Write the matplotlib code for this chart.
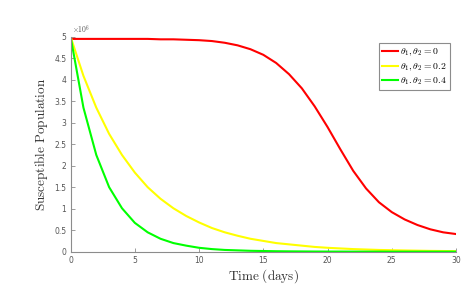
import numpy as np
import matplotlib.pyplot as plt
from matplotlib.ticker import FuncFormatter

plt.rcParams['mathtext.fontset'] = 'cm'

days = list(range(31))
s_red = [4.95, 4.95, 4.95, 4.95, 4.95, 4.95, 4.95, 4.94, 4.94, 4.93, 4.92,
         4.90, 4.86, 4.80, 4.71, 4.58, 4.39, 4.13, 3.80, 3.38, 2.90,
         2.38, 1.88, 1.47, 1.15, 0.92, 0.75, 0.62, 0.52, 0.45, 0.41]
s_yellow = [5.0, 4.09, 3.35, 2.74, 2.25, 1.84, 1.50, 1.23, 1.01, 0.83, 0.68,
            0.55, 0.45, 0.37, 0.30, 0.25, 0.20, 0.17, 0.14, 0.11, 0.09,
            0.075, 0.06, 0.05, 0.04, 0.034, 0.028, 0.023, 0.018, 0.015, 0.012]
s_green = [5.0, 3.35, 2.25, 1.50, 1.01, 0.67, 0.45, 0.30, 0.20, 0.14, 0.09,
           0.06, 0.04, 0.03, 0.02, 0.015, 0.01, 0.007, 0.005, 0.003, 0.002,
           0.002, 0.001, 0.001, 0.001, 0.0, 0.0, 0.0, 0.0, 0.0, 0.0]
labels = [r'$\theta_1,\theta_2=0$', r'$\theta_1,\theta_2=0.2$', r'$\theta_1.\theta_2=0.4$']
xticks = [0, 5, 10, 15, 20, 25, 30]
yticks = [0, 0.5, 1, 1.5, 2, 2.5, 3, 3.5, 4, 4.5, 5]

fig = plt.figure(figsize=(4.77, 2.94), dpi=100)
ax = fig.add_axes([0.148, 0.144, 0.808, 0.731])

scale = 1e6
ax.plot(days, np.array(s_red) * scale, color=(1, 0, 0), lw=1.5, label=labels[0])
ax.plot(days, np.array(s_yellow) * scale, color=(1, 1, 0), lw=1.5, label=labels[1])
ax.plot(days, np.array(s_green) * scale, color=(0, 1, 0), lw=1.5, label=labels[2])

ax.set_xlim(0, 30)
ax.set_ylim(0, 5e6)
ax.set_xticks(xticks)
ax.set_yticks([v * scale for v in yticks])
ax.yaxis.set_major_formatter(FuncFormatter(lambda v, p: '%g' % (v / scale)))

for s in ['top', 'right']:
    ax.spines[s].set_visible(False)
for s in ['left', 'bottom']:
    ax.spines[s].set_color('#8c8c8c')
    ax.spines[s].set_linewidth(0.8)
ax.tick_params(direction='in', length=3, width=0.6, colors='#8c8c8c',
               labelsize=5.5, labelcolor='#555555', pad=3)

ax.text(0.003, 1.005, r'$\times10^6$', transform=ax.transAxes, fontsize=5.5,
        color='#555555', ha='left', va='bottom')

ax.set_xlabel(r'$\mathrm{Time\ (days)}$', fontsize=9.5, color='#333333', labelpad=2)
ax.set_ylabel(r'$\mathrm{Susceptible\ Population}$', fontsize=9.5, color='#333333', labelpad=3)

leg = ax.legend(loc='upper right', bbox_to_anchor=(0.984, 0.969), borderaxespad=0,
                fontsize=7, fancybox=False, framealpha=1, edgecolor='#8c8c8c',
                handlelength=1.7, handletextpad=0.2, labelspacing=0.3, borderpad=0.3)
leg.get_frame().set_linewidth(0.8)

fig.savefig('out.png', dpi=100)
